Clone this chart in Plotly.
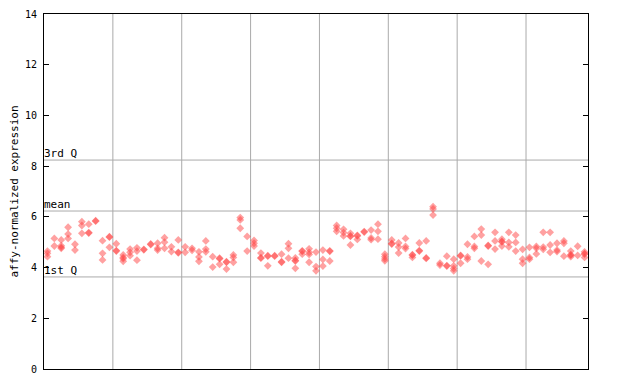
import plotly.graph_objects as go

# Expression values per sample (replicates), samples 1..79
samples = [
    [4.65, 4.56, 4.43], [5.15, 4.85], [5.09, 4.86, 4.80, 4.76], [5.59, 5.32, 5.15],
    [4.92, 4.69], [5.81, 5.66, 5.35], [5.71, 5.38, 5.36], [5.85, 5.83],
    [5.06, 4.56, 4.30], [5.22, 5.20, 4.80], [4.94, 4.67, 4.65], [4.50, 4.40, 4.35, 4.25],
    [4.73, 4.60, 4.47], [4.78, 4.65, 4.29], [4.72, 4.70], [4.93, 4.91],
    [4.96, 4.76, 4.69], [5.18, 5.00, 4.76], [4.82, 4.63], [5.09, 4.60, 4.58],
    [4.82, 4.60], [4.76, 4.68], [4.62, 4.42, 4.25], [5.05, 4.73, 4.62],
    [4.43, 4.02], [4.37, 4.35, 4.13], [4.23, 4.21, 3.94], [4.50, 4.40, 4.21],
    [5.97, 5.88, 5.55], [5.23, 4.65], [5.07, 4.96, 4.85], [4.57, 4.39, 4.37],
    [4.47, 4.45, 4.07], [4.47, 4.45], [4.53, 4.23, 4.21], [4.94, 4.76, 4.37],
    [4.38, 4.28, 4.26, 3.97], [4.66, 4.64, 4.53], [4.74, 4.60, 4.52, 4.21], [4.61, 4.04, 3.87],
    [4.69, 4.32, 4.06], [4.66, 4.64, 4.26], [5.66, 5.55, 5.43], [5.51, 5.38, 5.25],
    [5.35, 5.25, 5.23, 4.89], [5.27, 5.25, 5.11], [5.42, 5.40], [5.48, 5.17, 5.10],
    [5.71, 5.43, 5.12], [4.53, 4.43, 4.34, 4.27], [5.09, 4.95, 4.93], [4.97, 4.81, 4.57],
    [5.15, 4.83, 4.75], [4.51, 4.49, 4.40], [4.97, 4.67, 4.65], [5.05, 4.38, 4.36],
    [6.40, 6.31, 6.07], [4.17, 4.10], [4.45, 4.08, 4.06], [4.33, 4.07, 3.96, 3.87],
    [4.48, 4.46, 4.17], [4.92, 4.42, 4.33], [5.23, 4.83, 4.76], [5.52, 5.28, 4.26],
    [4.87, 4.85, 4.13], [5.39, 5.05, 4.73], [5.12, 5.03, 5.01, 4.85], [5.39, 4.99, 4.82],
    [5.28, 4.99, 4.65], [4.72, 4.33, 4.17], [4.80, 4.40, 4.33], [4.83, 4.76, 4.54],
    [5.39, 4.81, 4.72], [5.39, 4.89, 4.60], [4.96, 4.69, 4.63], [5.05, 4.96, 4.45],
    [4.65, 4.51, 4.49, 4.43], [4.84, 4.48], [4.62, 4.55, 4.53, 4.40],
]

q1 = 3.63
mean_val = 6.23
q3 = 8.24
y_ticks = [0, 2, 4, 6, 8, 10, 12, 14]
group_bounds = [10.5, 20.5, 30.5, 40.5, 50.5, 60.5, 70.5]

xs, ys = [], []
for i, vals in enumerate(samples, start=1):
    for v in vals:
        xs.append(i)
        ys.append(v)

n = len(samples)
fig = go.Figure()
fig.add_trace(go.Scatter(
    x=xs, y=ys, mode="markers",
    marker=dict(symbol="diamond", size=6, color="#ff4444", opacity=0.5, line=dict(width=0)),
    hoverinfo="skip", showlegend=False,
))

for xb in group_bounds:
    fig.add_shape(type="line", x0=xb, x1=xb, y0=0, y1=14, xref="x", yref="y",
                  line=dict(color="#aaaaaa", width=1), layer="below")
for yv in (q1, mean_val, q3):
    fig.add_shape(type="line", x0=0.5, x1=n + 0.5, y0=yv, y1=yv, xref="x", yref="y",
                  line=dict(color="#aaaaaa", width=1), layer="below")

for yv, txt in ((q3, "3rd Q"), (mean_val, "mean"), (q1, "1st Q")):
    fig.add_annotation(x=0, xref="paper", y=yv, yref="y", text=txt, showarrow=False,
                       xanchor="left", yanchor="bottom", yshift=-2, xshift=-2,
                       font=dict(family="DejaVu Sans Mono", size=11, color="black"))

# page body has an 8px default margin; margins below compensate for it
fig.update_layout(
    width=640, height=384,
    margin=dict(l=36, r=60, t=6, b=23, autoexpand=False),
    paper_bgcolor="white", plot_bgcolor="white",
    font=dict(family="DejaVu Sans Mono", size=9, color="black"),
    xaxis=dict(range=[0.5, n + 0.5], showgrid=False, zeroline=False, showticklabels=False,
               ticks="", showline=True, linecolor="black", linewidth=1, mirror=True,
               automargin=False),
    yaxis=dict(range=[0, 14], tickvals=y_ticks, showgrid=False, zeroline=False,
               ticks="inside", ticklen=5, tickcolor="black", showline=True,
               linecolor="black", linewidth=1, mirror="ticks", ticklabelstandoff=4,
               tickfont=dict(family="DejaVu Sans Mono", size=10), automargin=False,
               title=dict(text="affy-normalized expression",
                          font=dict(family="DejaVu Sans Mono", size=11), standoff=12)),
)

fig.write_html("out.html")
